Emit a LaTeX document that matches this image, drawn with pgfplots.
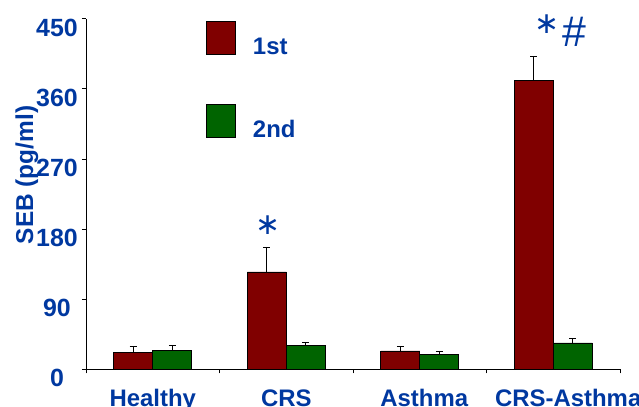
\documentclass[border=0pt]{standalone}
\usepackage{fontspec}
\setmainfont{Liberation Sans}
\newfontfamily\symfont{DejaVu Sans}
\usepackage{pgfplots}
\pgfplotsset{compat=1.18}
\definecolor{textblue}{RGB}{0,56,160}
\definecolor{barred}{RGB}{128,0,0}
\definecolor{bargreen}{RGB}{0,100,0}

\begin{document}
\begin{tikzpicture}
\begin{axis}[
  at={(86bp,37.7bp)}, anchor=south west,
  scale only axis, width=534bp, height=350.6bp,
  xmin=-0.5, xmax=3.5, ymin=0, ymax=450,
  axis lines*=left,
  axis line style={black, line width=0.8bp},
  ybar,
  legend image code/.code={\draw[#1, draw=black, line width=0.8bp] (0bp,0bp) rectangle (29bp,33bp);},
  ytick={0,90,...,450},
  xtick={0,1,2,3},
  xticklabels={Healthy,CRS,{\hspace*{9bp}Asthma},{\hspace*{30bp}CRS-Asthma}},
  minor xtick={-0.5,0.5,1.5,2.5,3.5},
  major x tick style={draw=none},
  tick align=outside,
  major tick length=4bp, minor tick length=4bp,
  tick style={black, line width=0.8bp},
  /pgf/number format/assume math mode=true,
  yticklabel style={font=\fontsize{25}{30}\selectfont\bfseries, text=textblue, anchor=north, inner sep=0pt, xshift=-25bp},
  xticklabel style={font=\fontsize{24}{29}\selectfont\bfseries, text=textblue, anchor=north, inner sep=0pt, yshift=-16bp},
  legend style={draw=none, fill=none, at={(0.2247,0.9934)}, anchor=north west,
    inner sep=0pt, row sep=48bp, column sep=17bp,
    cells={anchor=base west},
    nodes={inner sep=0pt, text=textblue, font=\fontsize{24}{29}\selectfont\bfseries}},
  clip=false,
]
\addplot[fill=barred, draw=black, line width=0.6bp, bar width=39bp, bar shift=-19.5bp,
  error bars/.cd, y dir=plus, y explicit,
  error bar style={black, line width=0.8bp},
  error mark options={black, rotate=90, mark size=3.5bp, line width=0.8bp}]
  coordinates {(0,21.9) +- (0,7.7) (1,125) +- (0,32) (2,23.5) +- (0,6.1) (3,370.6) +- (0,31.2)};
\addlegendentry{1st}
\addplot[fill=bargreen, draw=black, line width=0.6bp, bar width=39bp, bar shift=19.5bp,
  error bars/.cd, y dir=plus, y explicit,
  error bar style={black, line width=0.8bp},
  error mark options={black, rotate=90, mark size=3.5bp, line width=0.8bp}]
  coordinates {(0,24.4) +- (0,6.4) (1,30.8) +- (0,4.2) (2,19.3) +- (0,4.2) (3,33.8) +- (0,6)};
\addlegendentry{2nd}
% significance marks
\node[text=textblue, font=\symfont\fontsize{30}{36}\selectfont, inner sep=0pt] at (axis cs:0.863,185.2) {∗};
\node[text=textblue, font=\symfont\fontsize{30}{36}\selectfont, inner sep=0pt] at (axis cs:2.953,443.2) {∗};
\node[text=textblue, font=\fontsize{43}{50}\selectfont, inner sep=0pt, anchor=base] at (axis cs:3.155,413.7) {\#};
\end{axis}
\node[rotate=90, anchor=base, text=textblue, font=\fontsize{24.5}{29}\selectfont\bfseries, inner sep=0pt] at (33bp,232bp) {SEB (pg/ml)};
\pgfresetboundingbox
\path[use as bounding box] (0,0) rectangle (639bp,407bp);
\end{tikzpicture}
\end{document}
